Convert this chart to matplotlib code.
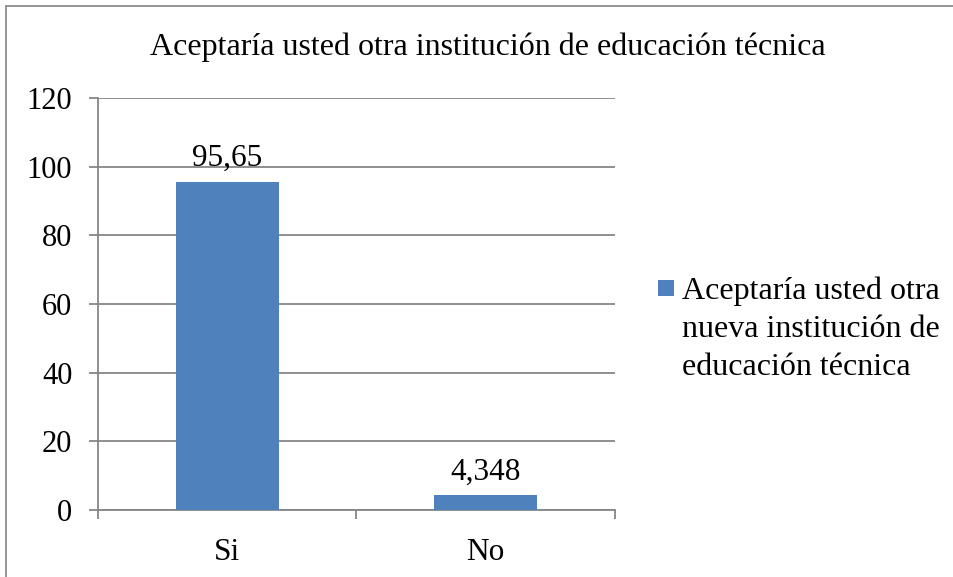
import matplotlib.pyplot as plt
from matplotlib.patches import Rectangle
from matplotlib.container import BarContainer
from matplotlib.legend_handler import HandlerPatch, update_from_first_child

categories = ["Si", "No"]
values = [95.65, 4.348]
value_labels = ["95,65", "4,348"]
yticks = [0, 20, 40, 60, 80, 100, 120]

title = "Aceptaría usted otra institución de educación técnica"
series_label = "Aceptaría usted otra\nnueva institución de\neducación técnica"

bar_color = "#4f81bd"
grid_color = "#868686"


def top_square(legend, orig_handle, xdescent, ydescent, width, height, fontsize):
    # put the square next to the first line of the three-line label
    return Rectangle((-xdescent, -ydescent + 31.7), 11.5, 11.5)


def main():
    plt.rcParams["font.family"] = ["Liberation Serif", "DejaVu Serif"]

    fig = plt.figure(figsize=(9.54, 5.77), dpi=100)
    W, H = 954, 577
    ax = fig.add_axes([98 / W, 1 - 510 / H, (615 - 98) / W, (510 - 98) / H])

    x = range(len(categories))
    bars = ax.bar(x, values, width=0.4, color=bar_color, label=series_label, zorder=3)

    for b, lab in zip(bars, value_labels):
        ax.text(b.get_x() + b.get_width() / 2, b.get_height() + 2.5, lab,
                ha="center", va="bottom", fontsize=22.5)

    ax.set_xlim(-0.5, 1.5)
    ax.set_ylim(0, 120)
    ax.set_yticks(yticks)
    ax.set_yticklabels([str(t) for t in yticks], fontsize=22)
    ax.set_xticks([-0.5, 0.5, 1.5])
    ax.set_xticklabels(["", "", ""])
    ax.set_xticks(list(x), minor=True)
    ax.set_xticklabels(categories, minor=True, fontsize=22.5)
    ax.tick_params(axis="x", which="minor", length=0, pad=20)
    ax.tick_params(axis="x", which="major", length=6.5, width=1.3, color=grid_color)
    ax.tick_params(axis="y", length=6.5, width=1.3, color=grid_color, pad=12)

    ax.yaxis.grid(True, color=grid_color, linewidth=1.3, zorder=0)
    ax.set_axisbelow(True)
    for side in ["top", "right"]:
        ax.spines[side].set_visible(False)
    for side in ["left", "bottom"]:
        ax.spines[side].set_color(grid_color)
        ax.spines[side].set_linewidth(1.3)

    fig.text(488 / W, 1 - 47 / H, title, ha="center", va="center", fontsize=23)

    handler = HandlerPatch(patch_func=top_square, update_func=update_from_first_child)
    leg = ax.legend(loc="upper left", bbox_to_anchor=(658 / W, 1 - 276 / H),
                    bbox_transform=fig.transFigure, frameon=False, fontsize=23,
                    handlelength=0.5, handletextpad=0.25, borderpad=0,
                    borderaxespad=0, labelspacing=0,
                    handler_map={BarContainer: handler})
    for t in leg.get_texts():
        t.set_linespacing(1.41)

    # outer frame: only the top and left edges fall inside the picture
    fig.patches.append(Rectangle((6 / W, -0.1), 1.1, 1.1 - 6.5 / H,
                                 transform=fig.transFigure, fill=False,
                                 edgecolor="#8c8c8c", linewidth=1.3))

    fig.savefig("out.png", dpi=100)


if __name__ == "__main__":
    main()
